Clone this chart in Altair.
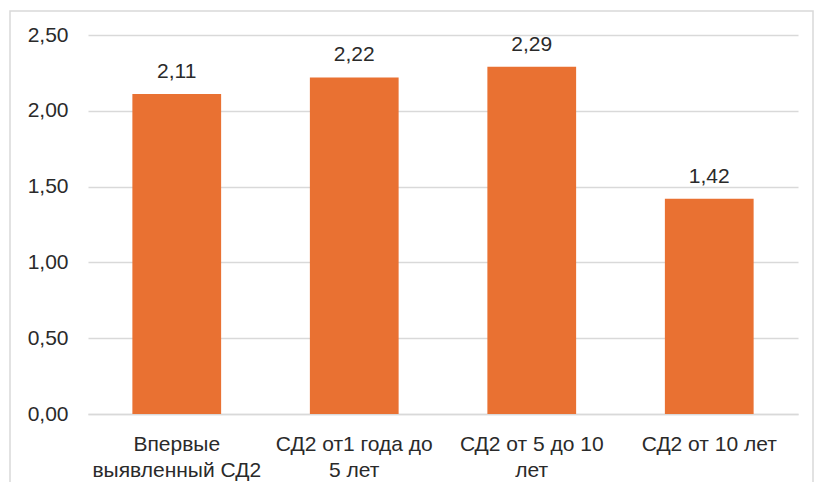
import altair as alt
import pandas as pd

categories = ["Впервые\nвыявленный СД2", "СД2 от1 года до\n5 лет", "СД2 от 5 до 10\nлет", "СД2 от 10 лет"]
values = [2.11, 2.22, 2.29, 1.42]

df = pd.DataFrame({"cat": categories, "val": values})
df["lbl"] = [f"{v:.2f}".replace(".", ",") for v in values]

FONT = "Liberation Sans"
FS = 21
TXT = "#2a2a2a"

x = alt.X("cat:N", sort=categories, title=None,
          scale=alt.Scale(paddingInner=0.5, paddingOuter=0.25),
          axis=alt.Axis(labelAngle=0, labelExpr="split(datum.label, '\\n')",
                        labelFontSize=FS, labelFont=FONT, labelColor=TXT,
                        labelPadding=19, ticks=False, domainColor="#d9d9d9",
                        domainWidth=1.5, labelLimit=300,
                        labelLineHeight=26, labelBaseline="top", grid=False))
y = alt.Y("val:Q", title=None,
          scale=alt.Scale(domain=[0, 2.5], nice=False),
          axis=alt.Axis(values=[0, 0.5, 1, 1.5, 2, 2.5],
                        labelExpr="replace(format(datum.value, '.2f'), '.', ',')",
                        labelFontSize=FS, labelFont=FONT, labelColor=TXT,
                        labelPadding=20, ticks=False, domain=False,
                        gridColor="#d9d9d9", gridWidth=1.5))

base = alt.Chart(df)
bars = base.mark_bar(color="#E97132").encode(x=x, y=y)
text = base.mark_text(baseline="bottom", dy=-12, fontSize=FS, font=FONT, color=TXT).encode(
    x=alt.X("cat:N", sort=categories), y="val:Q", text="lbl:N")

border = alt.Chart(pd.DataFrame({"a": [0]})).mark_rect(
    fill=None, stroke="#d9d9d9", strokeWidth=1.5, clip=False).encode(
    x=alt.value(-78), x2=alt.value(725), y=alt.value(-24), y2=alt.value(500))

chart = alt.layer(border, bars, text).properties(
    width=710, height=379,
    autosize=alt.AutoSizeParams(type="none"),
    padding={"left": 80, "top": 27, "right": 18, "bottom": 68},
    background="white",
).configure_view(stroke=None)

chart.save("out.html", embed_options={"renderer": "svg", "actions": False})
